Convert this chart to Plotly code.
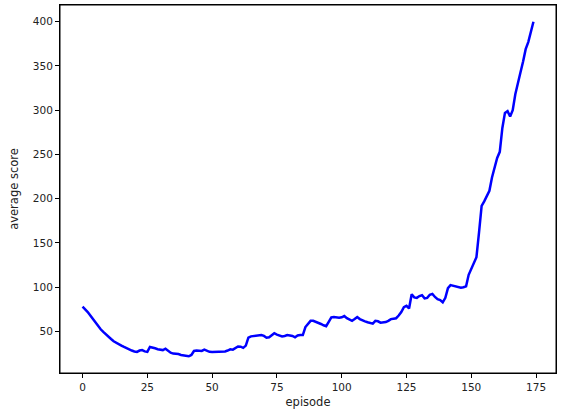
import plotly.graph_objects as go

episodes = list(range(175))
avg_score = [
    78, 75.5, 72, 68, 64, 60, 56, 52.5, 49.5, 46.5,          # 0-9
    44, 41.5, 39, 37, 35.5, 34, 32.5, 31, 29.8, 28.5,        # 10-19
    27.5, 27, 28.5, 29, 27.5, 27, 32.5, 32, 31, 30,          # 20-29
    29.5, 29, 30.5, 28, 26, 25, 25, 24.5, 23.5, 23,          # 30-39
    22, 22, 23.5, 28, 28.5, 28, 28, 29.5, 28, 27,            # 40-49
    26.8, 27, 26.5, 27, 26.8, 27.5, 28.5, 29.8, 29.5, 31,    # 50-59
    33, 32.8, 31.5, 34, 43, 44.5, 44.8, 44.8, 45, 46,        # 60-69
    45, 43, 43.5, 45.5, 48, 46.5, 45.5, 44.5, 45, 46,        # 70-79
    45.5, 45, 43.5, 45.5, 46, 46, 55, 58, 62, 62,            # 80-89
    61, 59.5, 58.5, 57, 56, 61, 66, 66.3, 65.8, 65.5,        # 90-99
    66, 67.4, 65, 63, 62, 64, 66.3, 64, 62.5, 61.5,          # 100-109
    60.5, 59.5, 58.8, 62, 61.5, 60, 60, 60.6, 62, 64,        # 110-119
    64.5, 65, 68, 72, 77.5, 79, 76, 92, 88.5, 88,            # 120-129
    90, 91, 87.5, 88, 91.5, 92.5, 89, 86.5, 85.5, 83,        # 130-139
    88, 99, 102.4, 101.5, 101, 100.5, 99.5, 100, 101, 114,   # 140-149
    121, 126, 134, 162, 192, 197, 203, 209, 224, 235,        # 150-159
    246, 253, 280, 297, 299, 293, 300, 318, 332, 343,        # 160-169
    355, 369, 377, 387, 400,                                 # 170-174
]

x_ticks = [0, 25, 50, 75, 100, 125, 150, 175]
y_ticks = [50, 100, 150, 200, 250, 300, 350, 400]

fig = go.Figure()
fig.add_trace(go.Scatter(
    x=episodes, y=avg_score, mode="lines",
    line=dict(color="#0000ff", width=2.5),
    showlegend=False, hoverinfo="skip",
))

axis_common = dict(
    showgrid=False, zeroline=False,
    showline=True, linecolor="black", linewidth=1, mirror=True,
    ticks="outside", ticklen=4, tickwidth=1, tickcolor="black",
    tickfont=dict(family="DejaVu Sans", size=10.5, color="#222"),
)

fig.update_layout(
    width=563, height=420,
    margin=dict(l=60, r=7, t=5, b=47),
    paper_bgcolor="white", plot_bgcolor="white",
    font=dict(family="DejaVu Sans", color="#222"),
    xaxis=dict(
        range=[-8.7, 182.7], tickvals=x_ticks,
        title=dict(text="episode", font=dict(size=11.5), standoff=6),
        **axis_common,
    ),
    yaxis=dict(
        range=[3.1, 418.9], tickvals=y_ticks,
        title=dict(text="average score", font=dict(size=11.5), standoff=11),
        **axis_common,
    ),
    shapes=[dict(
        type="rect", xref="paper", yref="paper", x0=0, x1=1, y0=0, y1=1,
        line=dict(color="black", width=1), fillcolor="rgba(0,0,0,0)",
        layer="above",
    )],
)

fig.write_html(
    "out.html",
    config={"displayModeBar": False, "staticPlot": True},
    post_script="document.body.style.margin='0';document.body.style.padding='0';",
)
